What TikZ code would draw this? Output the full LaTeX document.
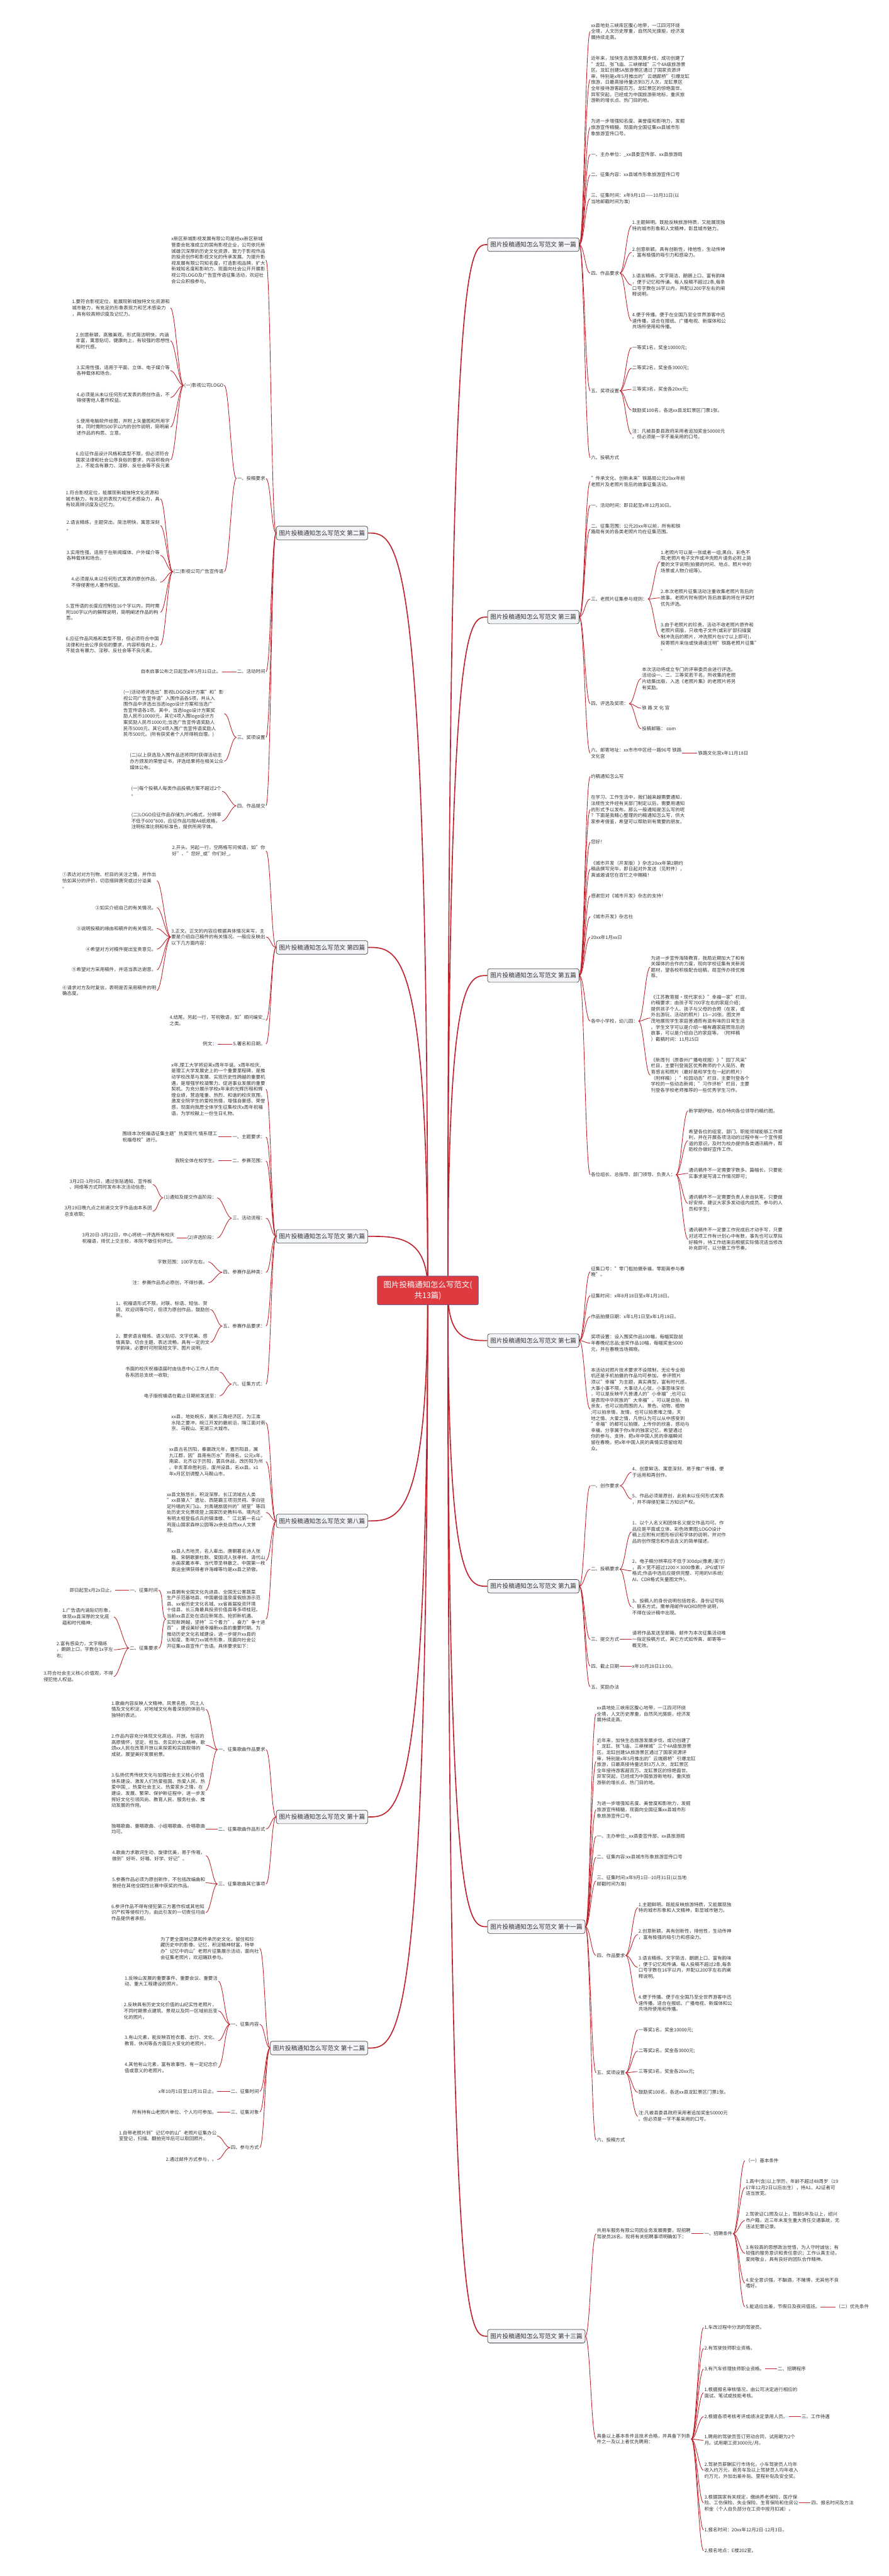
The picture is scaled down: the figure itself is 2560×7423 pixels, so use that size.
\documentclass[tikz,border=0pt]{standalone}
\usepackage{fontspec}
\setmainfont{Noto Sans CJK SC}
\usetikzlibrary{backgrounds}
\definecolor{linkc}{RGB}{190,34,44}
\definecolor{textc}{RGB}{51,51,51}
\definecolor{topicfill}{RGB}{241,243,246}
\definecolor{topicdraw}{RGB}{60,60,60}
\definecolor{rootfill}{RGB}{222,58,64}
\definecolor{rootdraw}{RGB}{70,90,160}
\tikzset{
  txt/.style={font=\fontsize{13.5pt}{17.4pt}\selectfont, text=textc, align=left, inner sep=2pt},
  rtxt/.style={txt, anchor=west},
  ltxt/.style={txt, anchor=east},
  topic/.style={draw=topicdraw, fill=topicfill, rounded corners=6pt, line width=1.2pt, font=\fontsize{17.4pt}{20pt}\selectfont, text=textc, inner xsep=8pt, inner ysep=0pt, minimum height=39pt},
  rootbox/.style={draw=rootdraw, fill=rootfill, rounded corners=4pt, line width=1.2pt, font=\fontsize{22.5pt}{30pt}\selectfont, text=white, align=center, minimum width=291pt, minimum height=83pt, inner sep=0pt},
  link/.style={draw=linkc, line width=1.6pt},
  mainlink/.style={draw=linkc, line width=3pt},
}
\newcommand\myR[4]{\node[rtxt] (#1) at (#2,#3) {#4};}
\newcommand\myL[4]{\node[ltxt] (#1) at (#2,#3) {#4};}
\newcommand\lkR[2]{\draw[link] (#1.east) to[out=0,in=180,distance=14pt] (#2.west);}
\newcommand\lkL[2]{\draw[link] (#1.west) to[out=180,in=0,distance=14pt] (#2.east);}
\newcommand\mainR[2]{\draw[mainlink] (1290,3718) .. controls (1290,#2) and (1347,#2) .. (#1.west);}
\newcommand\mainL[2]{\draw[mainlink] (1232,3718) .. controls (1232,#2) and (1146,#2) .. (#1.east);}
\begin{document}
\begin{tikzpicture}[x=1pt,y=-1pt]
\useasboundingbox (0,0) rectangle (2560,7423);
\begin{pgfonlayer}{background}
\fill[white] (0,0) rectangle (2560,7423);
\end{pgfonlayer}

% ---------- root ----------
\node[rootbox] (r) at (1232.5,3718.5) {图片投稿通知怎么写范文(\\共13篇)};

% ---------- topics ----------
\node[topic,anchor=west] (A1) at (1404,705) {图片投稿通知怎么写范文 第一篇};
\node[topic,anchor=west] (A3) at (1404,1778) {图片投稿通知怎么写范文 第三篇};
\node[topic,anchor=west] (A5) at (1404,2811) {图片投稿通知怎么写范文 第五篇};
\node[topic,anchor=west] (A7) at (1404,3863) {图片投稿通知怎么写范文 第七篇};
\node[topic,anchor=west] (A9) at (1404,4571) {图片投稿通知怎么写范文 第九篇};
\node[topic,anchor=west] (A11) at (1404,5552) {图片投稿通知怎么写范文 第十一篇};
\node[topic,anchor=west] (A13) at (1404,6732) {图片投稿通知怎么写范文 第十三篇};
\node[topic,anchor=east] (A2) at (1060,1536) {图片投稿通知怎么写范文 第二篇};
\node[topic,anchor=east] (A4) at (1060,2730) {图片投稿通知怎么写范文 第四篇};
\node[topic,anchor=east] (A6) at (1060,3562.6) {图片投稿通知怎么写范文 第六篇};
\node[topic,anchor=east] (A8) at (1060,4382.6) {图片投稿通知怎么写范文 第八篇};
\node[topic,anchor=east] (A10) at (1060,5235.7) {图片投稿通知怎么写范文 第十篇};
\node[topic,anchor=east] (A12) at (1060,5901.6) {图片投稿通知怎么写范文 第十二篇};

\begin{pgfonlayer}{background}
\mainR{A1}{705}\mainR{A3}{1778}\mainR{A5}{2811}\mainR{A7}{3863}
\mainR{A9}{4571}\mainR{A11}{5552}\mainR{A13}{6732}
\mainL{A2}{1536}\mainL{A4}{2730}\mainL{A6}{3562.6}\mainL{A8}{4382.6}
\mainL{A10}{5235.7}\mainL{A12}{5901.6}
\end{pgfonlayer}

% ---------- 第一篇 ----------
\myR{a1}{1700}{90.6}{xx县地处三峡库区腹心地带，一江四河环绕\\全境，人文历史厚重，自然风光旖旎，经济发\\展持续走高。}
\myR{a2}{1700}{229}{近年来，加快生态旅游发展步伐，成功创建了\\"龙缸、张飞庙、三峡梯城"三个4A级旅游景\\区。龙缸创建5A旅游景区通过了国家资源评\\审，特别是x年5月推出的"云端廊桥"引爆龙缸\\旅游，日最高接待量达到3万人次，龙缸景区\\全年接待游客超百万。龙缸景区的惊艳面世、\\异军突起，已经成为中国旅游新地标，重庆旅\\游新的增长点、热门目的地。}
\myR{a3}{1700}{367.4}{为进一步增强知名度、美誉度和影响力，发掘\\旅游宣传精髓，现面向全国征集xx县城市形\\象旅游宣传口号。}
\myR{a4}{1700}{445}{一、主办单位：\_xx县委宣传部、xx县旅游局}
\myR{a5}{1700}{504}{二、征集内容：xx县城市形象旅游宣传口号}
\myR{a6}{1700}{572.7}{三、征集时间：x年9月1日——10月31日(以\\当地邮戳时间为准)}
\myR{a7}{1700}{787}{四、作品要求}
\myR{a7a}{1819}{650}{1.主题鲜明。既能反映旅游特质，又能展现独\\特的城市形象和人文精神，彰显城市魅力。}
\myR{a7b}{1819}{727}{2.创意新颖。具有创新性，排他性，生动传神\\，富有极强的吸引力和感染力。}
\myR{a7c}{1819}{821.6}{3.语言精练。文字简洁、朗朗上口、富有韵味\\，便于记忆和传诵。每人投稿不超过2条,每条\\口号字数在16字以内，并配以200字左右的阐\\释说明。}
\myR{a7d}{1819}{925}{4.便于传播。便于在全国乃至全世界游客中迅\\速传播，适合在报纸、广播电视、新媒体和公\\共场所使用和传播。}
\myR{a8}{1700}{1126}{五、奖项设置}
\myR{a8a}{1819}{1002}{一等奖1名，奖金10000元;}
\myR{a8b}{1819}{1061}{二等奖2名，奖金各3000元;}
\myR{a8c}{1819}{1122}{三等奖3名，奖金各20xx元;}
\myR{a8d}{1819}{1182}{鼓励奖100名，各送xx县龙缸景区门票1张。}
\myR{a8e}{1819}{1251}{注：凡被县委县政府采用者追加奖金50000元\\。但必须是一字不差采用的口号。}
\myR{a9}{1700}{1319}{六、投稿方式}
\lkR{A1}{a1}\lkR{A1}{a2}\lkR{A1}{a3}\lkR{A1}{a4}\lkR{A1}{a5}\lkR{A1}{a6}\lkR{A1}{a7}\lkR{A1}{a8}\lkR{A1}{a9}
\lkR{a7}{a7a}\lkR{a7}{a7b}\lkR{a7}{a7c}\lkR{a7}{a7d}
\lkR{a8}{a8a}\lkR{a8}{a8b}\lkR{a8}{a8c}\lkR{a8}{a8d}\lkR{a8}{a8e}

% ---------- 第三篇 ----------
\myR{b1}{1700}{1387.5}{"传承文化、创新未来"铁路局公元20xx年前\\老照片及老照片背后的故事征集活动。}
\myR{b2}{1700}{1456}{一、活动时间：即日起至x年12月30日。}
\myR{b3}{1700}{1524.5}{二、征集范围：公元20xx年以前，所有和铁\\路局有关的各类老照片均在征集范围。}
\myR{b4}{1700}{1726}{三、老照片征集参与规则：}
\myR{b4a}{1901}{1619}{1.老照片可以是一张或者一组;黑白、彩色不\\限;老照片电子文件或冲洗照片请务必附上简\\要的文字说明(拍摄的时间、地点、照片中的\\场景或人物介绍等)。}
\myR{b4b}{1901}{1723}{2.本次老照片征集活动注重收集老照片背后的\\故事。老照片附有照片背后故事的将在评奖时\\优先评选。}
\myR{b4c}{1901}{1835}{3.由于老照片的珍贵，活动不收老照片原件和\\老照片底版，只收电子文件(或彩扩部扫描复\\制冲洗后的照片，冲洗照片在6寸以上即可)，\\投寄照片来信或快递请注明"铁路老照片征集"\\。}
\myR{b5}{1700}{2027.6}{四、评选及奖项：}
\myR{b5a}{1847}{1955}{本次活动将成立专门的评审委员会进行评选。\\活动设一、二、三等奖若干名。所收集的老照\\片结集出版，入选《老照片集》的老照片将另\\有奖励。}
\myR{b5b}{1847}{2040.7}{铁 路 文 化 宫}
\myR{b5c}{1847}{2100.6}{投稿邮箱： com}
\myR{b6}{1700}{2170}{六、邮寄地址：xx市市中区经一路96号 铁路\\文化宫}
\myR{b6a}{2008.6}{2170}{铁路文化宫x年11月18日}
\lkR{A3}{b1}\lkR{A3}{b2}\lkR{A3}{b3}\lkR{A3}{b4}\lkR{A3}{b5}\lkR{A3}{b6}
\lkR{b4}{b4a}\lkR{b4}{b4b}\lkR{b4}{b4c}
\lkR{b5}{b5a}\lkR{b5}{b5b}\lkR{b5}{b5c}
\lkR{b6}{b6a}

% ---------- 第五篇 ----------
\myR{c1}{1700}{2237.8}{约稿通知怎么写}
\myR{c2}{1700}{2332.8}{在学习、工作生活中，我们越来越需要通知，\\法规性文件经有关部门制定以后，需要用通知\\的形式予以发布。那么一般通知是怎么写的呢\\？下面是我精心整理的约稿通知怎么写，供大\\家参考借鉴，希望可以帮助到有需要的朋友。}
\myR{c3}{1700}{2426.5}{您好！}
\myR{c4}{1700}{2504.6}{《城市开发（开发版）》杂志20xx年第2期约\\稿函撰写完毕，即日起对外发送（见附件），\\真诚邀请您在百忙之中赐稿！}
\myR{c5}{1700}{2581.4}{感谢您对《城市开发》杂志的支持！}
\myR{c6}{1700}{2641.4}{《城市开发》杂志社}
\myR{c7}{1700}{2700.6}{20xx年1月xx日}
\myR{c8}{1700}{2942.3}{各中小学校，幼儿园：}
\myR{c8a}{1873}{2786.7}{为进一步宣传海陵教育，我局近期加大了和有\\关媒体的合作的力度，现向学校征集有关新闻\\题材，望各校积极配合组稿，局宣传办择优推\\荐。}
\myR{c8b}{1873}{2933.7}{《江苏教育报·现代家长》"幸福一家"栏目，\\约稿要求：由孩子写700字左右的家庭介绍；\\提供孩子个人、孩子与父母的合照（在家，或\\外出游玩、活动的照片）15—20张。图文并\\茂地展现学生家庭普通而有滋有味的日常生活\\。学生文字可以是介绍一幅有趣家庭照背后的\\故事，可以是介绍自己的家庭等。（附样稿\\）截稿时间：11月25日}
\myR{c8c}{1873}{3098}{《新周刊（原泰州广播电视报）》"园丁风采"\\栏目，主要刊登我区优秀教师的个人简历、教\\育感言和照片（最好是和学生在一起的照片）\\（附样稿）；"校园动态"栏目，主要刊登各个\\学校的一些动态新闻；"习作评析"栏目，主要\\刊登各学校老师推荐的一些优秀学生习作。}
\myR{c9}{1700}{3385}{各位组长、总指导、部门领导、负责人：}
\myR{c9a}{1981.7}{3201}{新学期伊始，校办特向各位领导约稿约图。}
\myR{c9b}{1981.7}{3286.8}{希望各位的组室、部门、职能领域能够工作顺\\利，并在开展各项活动的过程中有一个宣传报\\道的意识，及时为校办提供各类通讯稿件，帮\\助校办做好宣传工作。}
\myR{c9c}{1981.7}{3381.4}{通讯稿件不一定需要字数多、篇幅长，只要能\\实事求是写清工作情况即可；}
\myR{c9d}{1981.7}{3467.5}{通讯稿件不一定需要负责人亲自执笔，只要做\\好安排，建议大家多发动组内成员、参与的人\\员和学生；}
\myR{c9e}{1981.7}{3571.2}{通讯稿件不一定要工作完成后才动手写，只要\\对这项工作有计划心中有数，事先也可以草拟\\好稿件，待工作结束后根据实际情况适当修改\\补充即可，以分散工作节奏。}
\lkR{A5}{c1}\lkR{A5}{c2}\lkR{A5}{c3}\lkR{A5}{c4}\lkR{A5}{c5}\lkR{A5}{c6}\lkR{A5}{c7}\lkR{A5}{c8}\lkR{A5}{c9}
\lkR{c8}{c8a}\lkR{c8}{c8b}\lkR{c8}{c8c}
\lkR{c9}{c9a}\lkR{c9}{c9b}\lkR{c9}{c9c}\lkR{c9}{c9d}\lkR{c9}{c9e}

% ---------- 第七篇 ----------
\myR{d1}{1700}{3664.8}{征集口号："零门槛拍摄幸福，零距离参与春\\晚"。}
\myR{d2}{1700}{3733.7}{征集时间：x年8月18日至x年1月18日。}
\myR{d3}{1700}{3793.6}{作品拍摄日期：x年1月1日至x年1月18日。}
\myR{d4}{1700}{3870.4}{奖项设置：设入围奖作品100幅，每幅奖励鼠\\年春晚纪念品;金奖作品10幅，每幅奖金5000\\元，并在春晚当场揭晓。}
\myR{d5}{1700}{4060.9}{本活动对照片技术要求不设限制，无论专业相\\机还是手机拍摄的作品均可参加。 参评照片\\须以"幸福"为主题，真实典型，富有时代感，\\大事小事不限，大事动人心弦，小事意味深长\\，可以是反映平凡普通人的"小幸福";也可以\\是表现中华民族的"大幸福"。可以是自拍，拍\\亲友，也可以拍周围的人、景色、动物、植物\\;可以拍亲情，友情，也可以拍患难之情，天\\地之情、大爱之情，凡你认为可以从中感受到\\"幸福"的都可以拍摄。上传你的欣喜，感动与\\幸福，分享属于你x年的独家记忆，希望通过\\你的参与、支持，把x年中国人民的幸福瞬间\\留在春晚，把x年中国人民的真情实感留给观\\众。}
\lkR{A7}{d1}\lkR{A7}{d2}\lkR{A7}{d3}\lkR{A7}{d4}\lkR{A7}{d5}

% ---------- 第九篇 ----------
\myR{e1}{1700}{4281.3}{一、创作要求}
\myR{e1a}{1819}{4242.3}{4、创意鲜活、寓意深刻，易于推广传播，便\\于运用和再创作。}
\myR{e1b}{1819}{4319.9}{5、作品必须是原创，此前未以任何形式发表\\，并不得侵犯第三方知识产权。}
\myR{e2}{1700}{4521.7}{二、投稿要求}
\myR{e2a}{1819}{4414.6}{1、以个人名义和团体名义提交作品均可。作\\品应是平面或立体、彩色效果图;LOGO设计\\稿上应附有对图形标识和字体的说明，并对作\\品的创作理念和作品含义的简单描述。}
\myR{e2b}{1819}{4526.5}{2、电子稿分辨率应不低于300dpi(像素/英寸)\\，高×宽不超过1200×3000像素，JPG或TIF\\格式;作品中选后应提供完整、可用的VI系统(\\AI、CDR格式矢量图文件)。}
\myR{e2c}{1819}{4630}{3、投稿人的身份说明包括姓名、身份证号码\\、联系方式，需单用邮件WORD附件说明，\\不得在设计稿中出现。}
\myR{e3}{1700}{4724}{三、提交方式}
\myR{e3a}{1819}{4724}{请将作品发送至邮箱，邮件为本次征集活动唯\\一指定投稿方式，其它方式如传真、邮寄等一\\概无效。}
\myR{e4}{1700}{4801.3}{四、截止日期}
\myR{e4a}{1819}{4801.3}{x年10月28日13:00。}
\myR{e5}{1700}{4861.2}{五、奖励办法}
\lkR{A9}{e1}\lkR{A9}{e2}\lkR{A9}{e3}\lkR{A9}{e4}\lkR{A9}{e5}
\lkR{e1}{e1a}\lkR{e1}{e1b}
\lkR{e2}{e2a}\lkR{e2}{e2b}\lkR{e2}{e2c}
\lkR{e3}{e3a}\lkR{e4}{e4a}

% ---------- 第十一篇 ----------
\myR{f1}{1717}{4938.7}{xx县地处三峡库区腹心地带，一江四河环绕\\全境，人文历史厚重，自然风光旖旎，经济发\\展持续走高。}
\myR{f2}{1717}{5076.1}{近年来，加快生态旅游发展步伐，成功创建了\\"龙缸、张飞庙、三峡梯城"三个4A级旅游景\\区。龙缸创建5A旅游景区通过了国家资源评\\审，特别是x年5月推出的"云端廊桥"引爆龙缸\\旅游，日最高接待量达到3万人次，龙缸景区\\全年接待游客超百万。龙缸景区的惊艳面世、\\异军突起，已经成为中国旅游新地标，重庆旅\\游新的增长点、热门目的地。}
\myR{f3}{1717}{5214.9}{为进一步增强知名度、美誉度和影响力，发掘\\旅游宣传精髓，现面向全国征集xx县城市形\\象旅游宣传口号。}
\myR{f4}{1717}{5291.7}{一、主办单位:\_xx县委宣传部、xx县旅游局}
\myR{f5}{1717}{5351.7}{二、征集内容:xx县城市形象旅游宣传口号}
\myR{f6}{1717}{5420.2}{三、征集时间:x年9月1日-{}-10月31日(以当地\\邮戳时间为准)}
\myR{f7}{1717}{5634.7}{四、作品要求}
\myR{f7a}{1837}{5497.3}{1.主题鲜明。既能反映旅游特质，又能展现独\\特的城市形象和人文精神，彰显城市魅力。}
\myR{f7b}{1837}{5574.4}{2.创意新颖。具有创新性，排他性，生动传神\\，富有极强的吸引力和感染力。}
\myR{f7c}{1837}{5669.1}{3.语言精练。文字简洁、朗朗上口、富有韵味\\，便于记忆和传诵。每人投稿不超过2条,每条\\口号字数在16字以内，并配以200字左右的阐\\释说明。}
\myR{f7d}{1837}{5772.8}{4.便于传播。便于在全国乃至全世界游客中迅\\速传播，适合在报纸、广播电视、新媒体和公\\共场所使用和传播。}
\myR{f8}{1717}{5972.9}{五、奖项设置}
\myR{f8a}{1837}{5849.6}{一等奖1名，奖金10000元;}
\myR{f8b}{1837}{5909.5}{二等奖2名，奖金各3000元;}
\myR{f8c}{1837}{5969.4}{三等奖3名，奖金各20xx元;}
\myR{f8d}{1837}{6029.3}{鼓励奖100名，各送xx县龙缸景区门票1张。}
\myR{f8e}{1837}{6097.9}{注:凡被县委县政府采用者追加奖金50000元\\。但必须是一字不差采用的口号。}
\myR{f9}{1717}{6166.4}{六、投稿方式}
\lkR{A11}{f1}\lkR{A11}{f2}\lkR{A11}{f3}\lkR{A11}{f4}\lkR{A11}{f5}\lkR{A11}{f6}\lkR{A11}{f7}\lkR{A11}{f8}\lkR{A11}{f9}
\lkR{f7}{f7a}\lkR{f7}{f7b}\lkR{f7}{f7c}\lkR{f7}{f7d}
\lkR{f8}{f8a}\lkR{f8}{f8b}\lkR{f8}{f8c}\lkR{f8}{f8d}\lkR{f8}{f8e}

% ---------- 第十三篇 ----------
\myR{g1}{1717}{6436.6}{共用车服务有限公司因业务发展需要，现招聘\\驾驶员28名，现将有关招聘事项明确如下：}
\myR{g1a}{2026.6}{6436.6}{一、招聘条件}
\myR{g1a1}{2145.8}{6226.3}{（一）基本条件}
\myR{g1a2}{2145.8}{6303.8}{1.高中(含)以上学历，年龄不超过48周岁（19\\67年12月2日以后出生），持A1、A2证者可\\适当放宽。}
\myR{g1a3}{2145.8}{6398.3}{2.驾驶证C1照及以上，驾龄5年及以上，绍兴\\市户籍，近三年未发生重大责任交通事故，无\\违法犯罪记录。}
\myR{g1a4}{2145.8}{6493.2}{3.有较高的思想政治觉悟，为人守时诚信；有\\较强的服务意识和责任意识；工作认真主动，\\爱岗敬业，具有良好的团队合作精神。}
\myR{g1a5}{2145.8}{6579}{4.安全意识强，不酗酒，不赌博，无其他不良\\嗜好。}
\myR{g1a6}{2145.8}{6647.5}{5.能适应出差，节假日及夜间值班。}
\myR{g1a6x}{2406}{6647.5}{（二）优先条件}
\myR{g2}{1717}{7028.5}{具备以上基本条件且技术合格，并具备下列条\\件之一及以上者优先聘用：}
\myR{g2a}{2026.6}{6707.1}{1.车改过程中分流的驾驶员。}
\myR{g2b}{2026.6}{6766.8}{2.有驾驶技师职业资格。}
\myR{g2c}{2026.6}{6826.4}{3.有汽车修理技师职业资格。}
\myR{g2cx}{2238}{6826.4}{二、招聘程序}
\myR{g2d}{2026.6}{6894.9}{1.根据报名审核情况，由公司决定进行相应的\\面试、笔试或技能考核。}
\myR{g2e}{2026.6}{6963.4}{2.根据各项考核考评成绩决定录用人员。}
\myR{g2ex}{2306.6}{6963.4}{三、工作待遇}
\myR{g2f}{2026.6}{7031.9}{1.聘用的驾驶员签订劳动合同，试用期为2个\\月。试用期工资3000元/月。}
\myR{g2g}{2026.6}{7118.3}{2.驾驶员薪酬实行市场化，小车驾驶员人均年\\收入约万元，商务车及以上驾驶员人均年收入\\约万元，外加出差补贴、里程补贴及安全奖。}
\myR{g2h}{2026.6}{7212.5}{3.根据国家有关规定，缴纳养老保险、医疗保\\险、工伤保险、失业保险、生育保险和住房公\\积金（个人自负部分在工资中按月扣减）。}
\myR{g2hx}{2335}{7212.5}{四、报名时间及方法}
\myR{g2i}{2026.6}{7290.2}{1.报名时间：20xx年12月2日-12月3日。}
\myR{g2j}{2026.6}{7349.8}{2.报名地点：E楼202室。}
\lkR{A13}{g1}\lkR{A13}{g2}
\lkR{g1}{g1a}
\lkR{g1a}{g1a1}\lkR{g1a}{g1a2}\lkR{g1a}{g1a3}\lkR{g1a}{g1a4}\lkR{g1a}{g1a5}\lkR{g1a}{g1a6}
\lkR{g1a6}{g1a6x}
\lkR{g2}{g2a}\lkR{g2}{g2b}\lkR{g2}{g2c}\lkR{g2}{g2d}\lkR{g2}{g2e}\lkR{g2}{g2f}\lkR{g2}{g2g}\lkR{g2}{g2h}\lkR{g2}{g2i}\lkR{g2}{g2j}
\lkR{g2c}{g2cx}\lkR{g2e}{g2ex}\lkR{g2h}{g2hx}

% ---------- 第二篇 ----------
\myL{h1}{766}{749.6}{x新区新城影视发展有限公司是经xx新区新城\\管委会批准成立的国有影视企业，公司依托新\\城雄沉深厚的历史文化资源，致力于影视作品\\的投资创作和影视文化的传承发展。为提升影\\视发展有限公司知名度，打造影视品牌，扩大\\新城知名度和影响力，现面向社会公开开展影\\视公司LOGO及广告宣传语征集活动，欢迎社\\会公众积极参与。}
\myL{h2}{766}{1378.9}{一、投稿要求}
\myL{h2a}{646}{1110.4}{(一)影视公司LOGO}
\myL{h2a1}{491}{887.5}{1.要符合影视定位，能展现新城独特文化资源和\\城市魅力，有充足的形象表现力和艺术感染力\\，具有较高辨识度及记忆力。}
\myL{h2a2}{491}{982}{2.创意新颖，高雅美观，形式简洁明快，内涵\\丰富，寓意贴切，健康向上，有较强的思想性\\和时代感。}
\myL{h2a3}{491}{1068}{3.实用性强，适用于平面、立体、电子媒介等\\各种载体和场合。}
\myL{h2a4}{491}{1145.6}{4.必须是从未以任何形式发表的原创作品，不\\得侵害他人著作权益。}
\myL{h2a5}{491}{1230.7}{5.使用电脑软件绘图，并附上矢量图和所用字\\体，同时需附500字以内的创作说明，简明阐\\述作品的构思、立意。}
\myL{h2a6}{491}{1325.3}{6.应征作品设计风格和类型不限，但必须符合\\国家法律和社会公序良俗的要求，内容积极向\\上，不能含有暴力、淫秽、反社会等不良元素}
\myL{h2b}{646}{1647.3}{(二)影视公司广告宣传语}
\myL{h2b1}{462}{1437.5}{1.符合影视定位，能展现新城独特文化资源和\\城市魅力，有充足的表现力和艺术感染力，具\\有较高辨识度及记忆力。}
\myL{h2b2}{462}{1514.5}{2.语言精练，主题突出，简洁明快，寓意深刻\\。}
\myL{h2b3}{462}{1600.4}{3.实用性强，适用于在新闻媒体、户外媒介等\\各种载体和场合。}
\myL{h2b4}{462}{1677.4}{4.必须是从未以任何形式发表的原创作品，\\不得侵害他人著作权益。}
\myL{h2b5}{462}{1764}{5.宣传语的长度应控制在16个字以内，同时需\\附100字以内的解释说明，简明阐述作品的构\\思。}
\myL{h2b6}{462}{1858.5}{6.应征作品风格和类型不限，但必须符合中国\\法律和社会公序良俗的要求，内容积极向上，\\不能含有暴力、淫秽、反社会等不良元素。}
\myL{h3}{766}{1935.6}{二、活动时间}
\myL{h3a}{639}{1935.6}{自本启事公布之日起至x年5月31日止。}
\myL{h4}{766}{2124.8}{三、奖项设置}
\myL{h4a}{646}{2056.2}{(一)活动将评选出"影视LOGO设计方案"和"影\\视公司广告宣传语"入围作品各5项，并从入\\围作品中评选出当选logo设计方案和当选广\\告宣传语各1项。其中，当选logo设计方案奖\\励人民币10000元，其它4项入围logo设计方\\案奖励人民币1000元;当选广告宣传语奖励人\\民币5000元，其它4项入围广告宣传语奖励人\\民币500元。(所有获奖者个人所得税自理。)}
\myL{h4b}{646}{2194}{(二)以上获选及入围作品还将同时获得活动主\\办方颁发的荣誉证书，评选结果将在相关公众\\媒体公布。}
\myL{h5}{766}{2322}{四、作品提交}
\myL{h5a}{640}{2280.2}{(一)每个投稿人每类作品投稿方案不超过2个\\。}
\myL{h5b}{640}{2366}{(二)LOGO应征作品存储为JPG格式，分辨率\\不低于600*800，应征作品均按A4纸规格，\\注明标准比例和标准色，提供所用字体。}
\lkL{A2}{h1}\lkL{A2}{h2}\lkL{A2}{h3}\lkL{A2}{h4}\lkL{A2}{h5}
\lkL{h2}{h2a}\lkL{h2}{h2b}
\lkL{h2a}{h2a1}\lkL{h2a}{h2a2}\lkL{h2a}{h2a3}\lkL{h2a}{h2a4}\lkL{h2a}{h2a5}\lkL{h2a}{h2a6}
\lkL{h2b}{h2b1}\lkL{h2b}{h2b2}\lkL{h2b}{h2b3}\lkL{h2b}{h2b4}\lkL{h2b}{h2b5}\lkL{h2b}{h2b6}
\lkL{h3}{h3a}\lkL{h4}{h4a}\lkL{h4}{h4b}\lkL{h5}{h5a}\lkL{h5}{h5b}

% ---------- 第四篇 ----------
\myL{i1}{766}{2451.9}{2.开头。另起一行，空两格写问候语，如"你\\好"、"您好\_或"你们好\_。}
\myL{i2}{766}{2700.1}{3.正文。正文的内容应根据具体情况来写，主\\要是介绍自己稿件的有关情况。一般应反映出\\以下几方面内容：}
\myL{i2a}{452}{2537.7}{①表达对对方刊物、栏目的关注之情，并作出\\恰如其分的评价，切忌措辞唐突或过分溢美\\。}
\myL{i2b}{452}{2615.4}{②如实介绍自己的有关情况。}
\myL{i2c}{452}{2675.6}{③说明投稿的缘由和稿件的有关情况。}
\myL{i2d}{452}{2735}{④希望对方对稿件提出宝贵意见。}
\myL{i2e}{452}{2794.4}{⑤希望对方采用稿件，并适当表达谢意。}
\myL{i2f}{452}{2854.5}{⑥请求对方及时复信，表明是否采用稿件的明\\确态度。}
\myL{i3}{766}{2940.3}{4.结尾。另起一行，写祝敬语，如"顺问编安\_\\之类。}
\myL{i4}{766}{3008.5}{5.署名和日期。}
\myL{i4a}{627}{3008.5}{例文：}
\lkL{A4}{i1}\lkL{A4}{i2}\lkL{A4}{i3}\lkL{A4}{i4}
\lkL{i2}{i2a}\lkL{i2}{i2b}\lkL{i2}{i2c}\lkL{i2}{i2d}\lkL{i2}{i2e}\lkL{i2}{i2f}
\lkL{i4}{i4a}

% ---------- 第六篇 ----------
\myL{j1}{766}{3138.7}{x年,理工大学将迎来x周年华诞。x周年校庆,\\是理工大学发展史上的一个重要里程碑，是推\\动学校改革与发展、实现历史性跨越的重要机\\遇，是增强学校凝聚力、促进事业发展的重要\\契机。为充分展示学校x年来的光辉历程和辉\\煌业绩，营造隆重、热烈、和谐的校庆氛围，\\激发全院学生的爱校热情，增强自豪感、荣誉\\感，现面向我愿全体学生征集校庆x周年祝福\\语，为学校献上一份生日礼物。}
\myL{j2}{766}{3276.2}{一、主题要求：}
\myL{j2a}{628}{3276.2}{围绕本次祝福语征集主题"热爱现代 情系理工\\ 祝福母校"进行。}
\myL{j3}{766}{3345.2}{二、参赛范围：}
\myL{j3a}{628}{3345.2}{我院全体在校学生。}
\myL{j4}{766}{3510.2}{三、活动流程：}
\myL{j4a}{626}{3451.5}{(1)通知及提交作品阶段：}
\myL{j4a1}{440}{3413.4}{3月2日-3月9日，通过张贴通知、宣传板\\、网络等方式同时发布本次活动信息;}
\myL{j4a2}{440}{3490.4}{3月19日晚九点之前递交文字作品由本系团\\总支收取;}
\myL{j4b}{626}{3567.4}{(2)评选阶段：}
\myL{j4b1}{509}{3567.4}{3月20日-3月22日，中心将统一评选所有校庆\\祝福语，择优上交主校，本院不做任何评比。}
\myL{j5}{766}{3666.4}{四、参赛作品种类：}
\myL{j5a}{600}{3636.3}{字数范围：100字左右。}
\myL{j5b}{600}{3696.5}{注：参赛作品务必原创，不得抄袭。}
\myL{j6}{766}{3821.2}{五、参赛作品要求：}
\myL{j6a}{606}{3773.5}{1、祝福语形式不限，对联、标语、短信、贺\\词、欢迎词等均可，但须为原创作品，鼓励创\\新。}
\myL{j6b}{606}{3868.1}{2、要求语言精炼、语义贴切、文字优美、感\\情真挚、切合主题、表达流畅。具有一定的文\\学韵味，必要时可附简短文字、图片说明。}
\myL{j7}{766}{3988.4}{六、征集方式：}
\myL{j7a}{633}{3953.9}{书面的校庆祝福语届时由信息中心工作人员向\\各系团总支统一收取;}
\myL{j7b}{633}{4022.1}{电子版祝福语在截止日期前发送至：}
\lkL{A6}{j1}\lkL{A6}{j2}\lkL{A6}{j3}\lkL{A6}{j4}\lkL{A6}{j5}\lkL{A6}{j6}\lkL{A6}{j7}
\lkL{j2}{j2a}\lkL{j3}{j3a}\lkL{j4}{j4a}\lkL{j4}{j4b}\lkL{j4a}{j4a1}\lkL{j4a}{j4a2}\lkL{j4b}{j4b1}
\lkL{j5}{j5a}\lkL{j5}{j5b}\lkL{j6}{j6a}\lkL{j6}{j6b}\lkL{j7}{j7a}\lkL{j7}{j7b}

% ---------- 第八篇 ----------
\myL{k1}{766}{4099.9}{xx县，地处皖东，属长三角经济区，为江淮\\水陆之要冲，皖江开发的最前沿，隔江面对南\\京、马鞍山、芜湖三大城市。}
\myL{k2}{766}{4211.7}{xx县古名历阳，秦嬴政元年，置历阳县，属\\九江郡，因"县南有历水"而得名。公元x年，\\南梁、北齐议于历阳，罢兵休战，改历阳为州\\。辛亥革命胜利后，废州设县，名xx县。x1\\年x月区划调整入马鞍山市。}
\myL{k3}{766}{4358.4}{xx县文脉悠长，积淀深厚。长江流域古人类\\"xx县猿人"遗址、西楚霸王项羽灵祠、李白驻\\足吟唱的天门山、刘禹锡旅居州的"陋室"等四\\处历史文化景观登上国家历史教科书。境内还\\有明太祖登临点兵的镇淮楼、"江北第一名山"\\鸡笼山国家森林公园等2x余处自然xx人文景\\观。}
\myL{k4}{766}{4496.3}{xx县人杰地灵，名人辈出。唐朝著名诗人张\\籍、宋朝歌豪杜默、爱国词人张孝祥、清代山\\水画家戴本孝、当代草圣林散之、中国第一枚\\奥运金牌获得者许海峰等均是xx县之骄傲。}
\myL{k5}{766}{4665.7}{xx县拥有全国文化先进县、全国无公害蔬菜\\生产示范基地县、中国最佳温泉度假旅游示范\\县、xx省历史文化名城、xx省首届投资环境\\十佳县、长三角最具投资价值县等多项桂冠。\\当前xx县正处在适应新常态、抢抓新机遇、\\实现新跨越，坚持"三个着力"，奋力"争十进\\百"，建设美好谐幸福新xx县的重要时期。为\\推动历史文化名城建设，进一步提升xx县的\\认知度、影响力xx城市形象，现面向社会公\\开征集xx县宣传广告语。具体要求如下：}
\myL{k5a}{457}{4582.4}{一、征集时间}
\myL{k5a1}{332}{4582.4}{即日起至x月2x日止。}
\myL{k5b}{457}{4749}{二、征集要求}
\myL{k5b1}{328}{4659.5}{1.广告语内涵贴切形象，\\体现xx县深厚的文化底\\蕴和时代精神;}
\myL{k5b2}{328}{4754}{2.富有感染力，文字精练\\，朗朗上口，字数在1x字左\\右;}
\myL{k5b3}{328}{4831}{3.符合社会主义核心价值观，不得\\侵犯他人权益。}
\lkL{A8}{k1}\lkL{A8}{k2}\lkL{A8}{k3}\lkL{A8}{k4}\lkL{A8}{k5}
\lkL{k5}{k5a}\lkL{k5}{k5b}\lkL{k5a}{k5a1}\lkL{k5b}{k5b1}\lkL{k5b}{k5b2}\lkL{k5b}{k5b3}

% ---------- 第十篇 ----------
\myL{l1}{766}{5041.6}{一、征集歌曲作品要求}
\myL{l1a}{593}{4925.7}{1.歌曲内容反映人文精神、风景名胜、风土人\\情及文化积淀，对地域文化有着深刻的体验与\\独特的表达。}
\myL{l1b}{593}{5029.1}{2.作品内容充分体现文化高远、开放、包容的\\高原情怀，坚定、担当、务实的大山精神，歌\\颂xx人民在改革开放以来探索和实践取得的\\成就，展望美好发展前景。}
\myL{l1c}{593}{5159}{3.弘扬优秀传统文化与加强社会主义核心价值\\体系建设、激发人们热爱祖国、热爱人民、热\\爱中国\_、热爱社会主义、热爱家乡之情，在\\建设、发展、繁荣、保护新征程中，进一步发\\挥好文化引领风尚、教育人民、服务社会、推\\动发展的作用。}
\myL{l2}{766}{5270.4}{二、征集歌曲作品形式}
\myL{l2a}{593}{5270.4}{独唱歌曲、重唱歌曲、小组唱歌曲、合唱歌曲\\均可。}
\myL{l3}{766}{5428.8}{三、征集歌曲其它事项}
\myL{l3a}{593}{5347.4}{4.歌曲力求歌词生动，旋律优美，易于传唱，\\做到"好听、好唱、好学、好记"。}
\myL{l3b}{593}{5425.2}{5.参赛作品必须为原创新作，不包括改编曲和\\曾经在其他全国性比赛中获奖的作品。}
\myL{l3c}{593}{5511}{6.参评作品不得有侵犯第三方著作权或其他知\\识产权等侵权行为，由此引发的一切责任均由\\作品提供者承担。}
\lkL{A10}{l1}\lkL{A10}{l2}\lkL{A10}{l3}
\lkL{l1}{l1a}\lkL{l1}{l1b}\lkL{l1}{l1c}\lkL{l2}{l2a}
\lkL{l3}{l3a}\lkL{l3}{l3b}\lkL{l3}{l3c}

% ---------- 第十二篇 ----------
\myL{m1}{748}{5614}{为了更全面地记录和传承历史文化，留住和珍\\藏历史中的影像、记忆，积淀精神财富，特举\\办"记忆中的山"老照片征集展示活动，面向社\\会征集老照片，欢迎踊跃参与。}
\myL{m2}{748}{5833}{一、征集内容}
\myL{m2a}{629}{5709}{1.反映山发展的重要事件、重要会议、重要活\\动、重大工程建设的照片。}
\myL{m2b}{629}{5794.8}{2.反映具有历史文化价值的山纪实性老照片，\\不同时期景点建筑、景观以及同一区域前后变\\化的照片。}
\myL{m2c}{629}{5880.6}{3.有山元素，能反映百姓衣着、出行、文化、\\教育、休闲等各方面巨大变化的老照片。}
\myL{m2d}{629}{5957.6}{4.其他有山元素，富有故事性、有一定纪念价\\值或意义的老照片。}
\myL{m3}{748}{6026.5}{二、征集时间}
\myL{m3a}{626}{6026.5}{x年10月1日至12月31日止。}
\myL{m4}{748}{6086}{三、征集对象}
\myL{m4a}{626}{6086}{所有持有山老照片单位、个人均可参加。}
\myL{m5}{748}{6188.6}{四、参与方式}
\myL{m5a}{626}{6154.9}{1.自带老照片到"记忆中的山"老照片征集办公\\室登记，扫描、翻拍完毕后可以取回照片。}
\myL{m5b}{626}{6223}{2.通过邮件方式参与，。}
\lkL{A12}{m1}\lkL{A12}{m2}\lkL{A12}{m3}\lkL{A12}{m4}\lkL{A12}{m5}
\lkL{m2}{m2a}\lkL{m2}{m2b}\lkL{m2}{m2c}\lkL{m2}{m2d}
\lkL{m3}{m3a}\lkL{m4}{m4a}\lkL{m5}{m5a}\lkL{m5}{m5b}
\end{tikzpicture}
\end{document}
